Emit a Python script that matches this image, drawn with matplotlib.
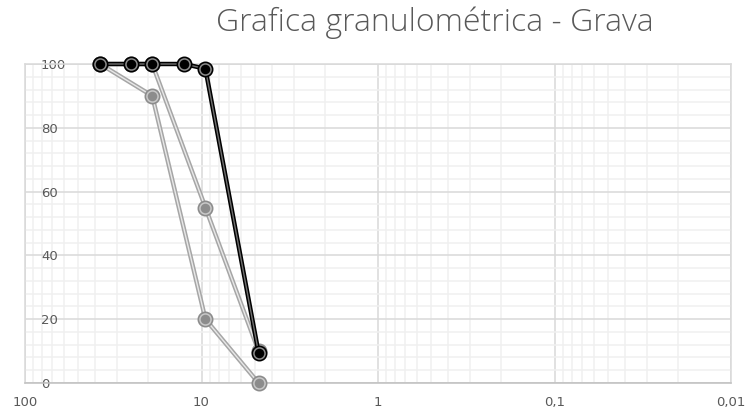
import matplotlib.pyplot as plt
import matplotlib.patheffects as pe
from matplotlib.ticker import LogLocator, FixedLocator, MultipleLocator, NullFormatter

# abertura de tamices (mm) y % que pasa
x_negro = [37.5, 25, 19, 12.5, 9.5, 4.75]
y_negro = [100, 100, 100, 100, 98.5, 9.5]

x_gris1 = [37.5, 19, 9.5, 4.75]
y_gris1 = [100, 90, 20, 0]

x_gris2 = [37.5, 25, 19, 9.5, 4.75]
y_gris2 = [100, 100, 100, 55, 10]

x_ticks = [100, 10, 1, 0.1, 0.01]
x_labels = ["100", "10", "1", "0,1", "0,01"]
y_ticks = [0, 20, 40, 60, 80, 100]

txt = "#595959"

fig = plt.figure(figsize=(7.46, 4.11), dpi=100)
ax = fig.add_axes([25 / 746, 1 - 383 / 411, 706 / 746, 319 / 411])

def serie(x, y, outer, inner, mk_out, mk_ring, mk_fill, z):
    ax.plot(x, y, color=inner, lw=1.0, zorder=z, clip_on=False,
            path_effects=[pe.Stroke(linewidth=3.2, foreground=outer), pe.Normal()])
    ax.plot(x, y, ls="none", marker="o", ms=10.5, mfc=mk_out, mec=mk_out, zorder=z + 0.1, clip_on=False)
    ax.plot(x, y, ls="none", marker="o", ms=8, mfc=mk_fill, mec=mk_ring, mew=1.1, zorder=z + 0.2, clip_on=False)

serie(x_gris1, y_gris1, "#a6a6a6", "#e8e8e8", "#8c8c8c", "#c8c8c8", "#8c8c8c", 3)
serie(x_gris2, y_gris2, "#a6a6a6", "#e8e8e8", "#8c8c8c", "#c8c8c8", "#8c8c8c", 4)
serie(x_negro, y_negro, "#000000", "#6f6f6f", "#000000", "#8c8c8c", "#000000", 5)

ax.set_xscale("log")
ax.set_xlim(100, 0.01)
ax.set_ylim(0, 100)

ax.xaxis.set_major_locator(FixedLocator(x_ticks))
ax.set_xticks(x_ticks)
ax.set_xticklabels(x_labels)
ax.xaxis.set_minor_locator(LogLocator(base=10, subs=range(2, 10)))
ax.xaxis.set_minor_formatter(NullFormatter())
ax.set_yticks(y_ticks)
ax.yaxis.set_minor_locator(MultipleLocator(4))

ax.grid(which="major", color="#d9d9d9", lw=1.1, zorder=0)
ax.grid(which="minor", color="#f0f0f0", lw=1.1, zorder=0)
ax.set_axisbelow(True)

for s in ax.spines.values():
    s.set_color("#d9d9d9")
    s.set_linewidth(1.1)
ax.spines["bottom"].set_color("#bfbfbf")

ax.tick_params(which="both", length=0)
ax.tick_params(axis="x", labelsize=9.5, labelcolor=txt, pad=9)
ax.tick_params(axis="y", labelsize=9.5, labelcolor=txt, pad=-11.5)
for lab in ax.get_yticklabels():
    lab.set_horizontalalignment("left")
    lab.set_zorder(2)

fig.text(435 / 746, 1 - 23 / 411, "Grafica granulométrica - Grava", ha="center", va="center",
         fontsize=23, color=txt, family="Open Sans", fontweight="light")

fig.savefig("out.png", dpi=100)
